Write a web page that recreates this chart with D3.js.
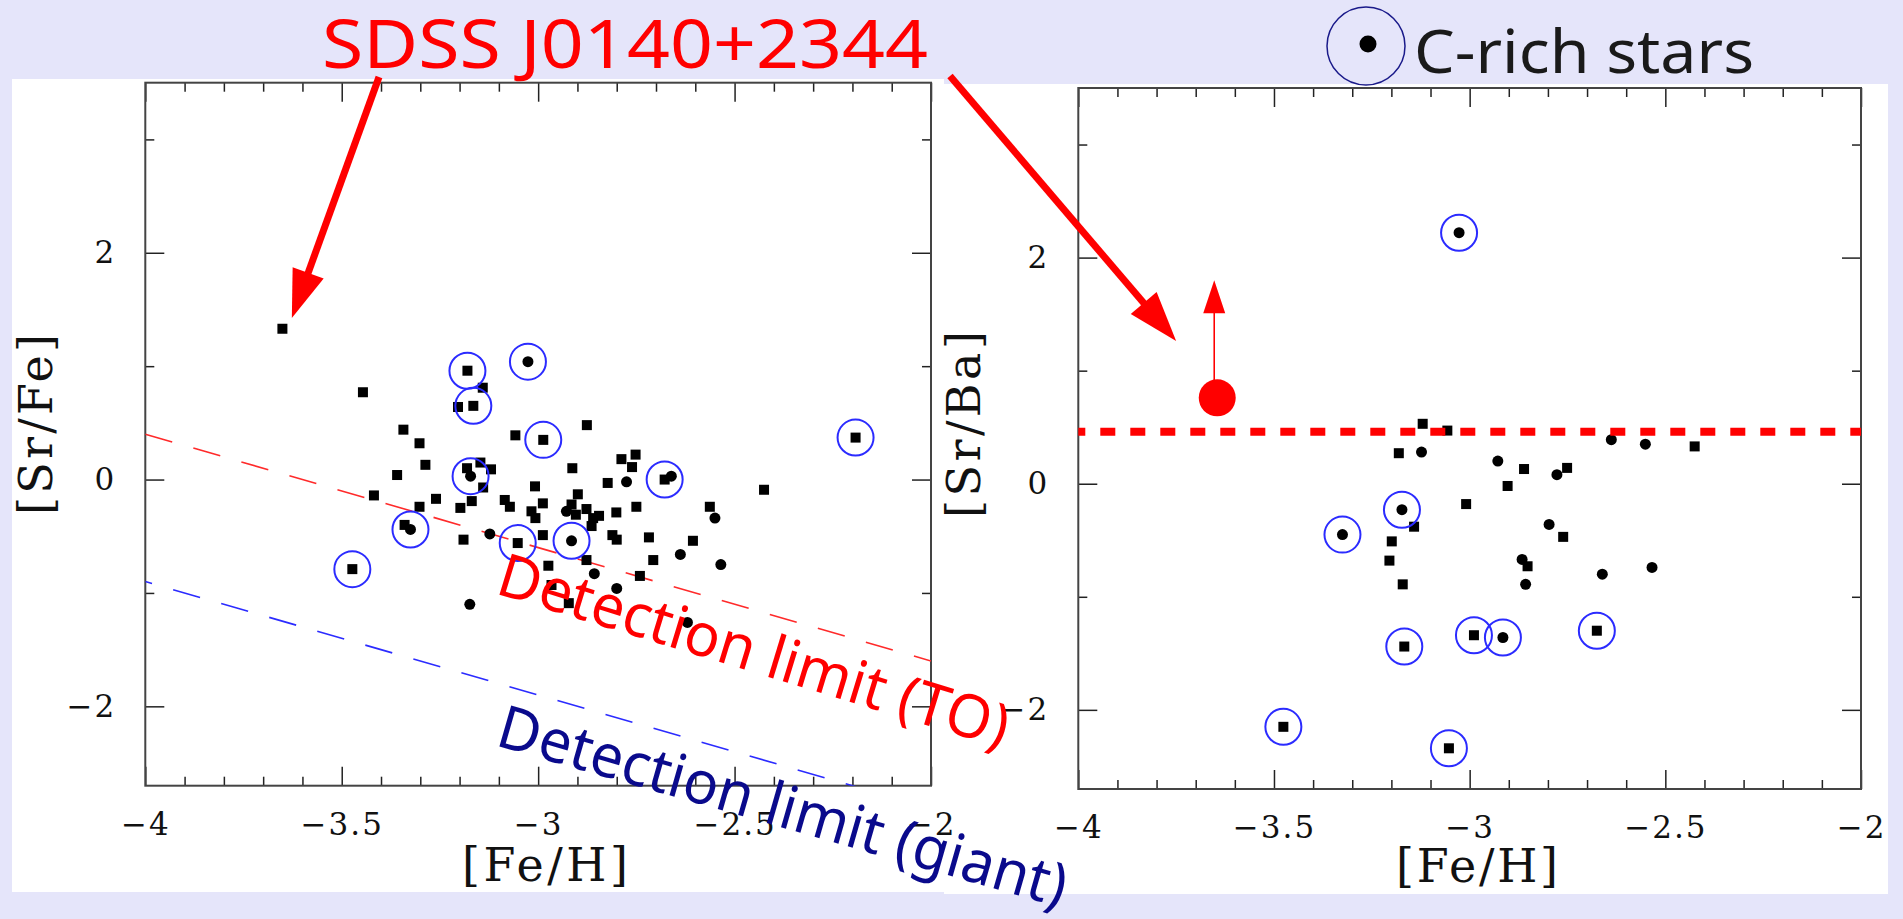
<!DOCTYPE html>
<html>
<head>
<meta charset="utf-8">
<script src="https://cdn.jsdelivr.net/npm/d3@7"></script>
<style>
  body { margin: 0; background: #e5e5fa; }
  svg { display: block; }
</style>
</head>
<body>
<div id="chart"></div>
<script>
// ---- data ----
// left panel: [Fe/H], [Sr/Fe]
var leftSquares = [
  [-3.651, 1.33], [-3.141, 0.81], [-3.446, 0.77], [-3.204, 0.64], [-2.876, 0.48],
  [-3.058, 0.39], [-3.343, 0.44], [-3.302, 0.32], [-3.287, 0.13], [-3.359, 0.04],
  [-3.418, -0.14], [-3.181, 0.10], [-3.147, 0.15], [-3.120, 0.09], [-3.140, -0.07],
  [-3.260, -0.17], [-3.302, -0.24], [-3.340, -0.40], [-3.190, -0.53], [-3.198, -0.25],
  [-3.169, -0.19], [-3.085, -0.18], [-3.072, -0.24], [-3.008, -0.06], [-2.988, -0.21],
  [-2.988, -0.49], [-2.974, -0.76], [-2.966, -0.93], [-2.922, -1.09], [-2.913, 0.10],
  [-2.899, -0.13], [-2.823, -0.03], [-2.788, 0.18], [-2.752, 0.22], [-2.761, 0.11],
  [-2.425, -0.09], [-3.017, -0.28], [-3.007, -0.34], [-2.915, -0.22], [-2.877, -0.26],
  [-2.904, -0.31], [-2.860, -0.34], [-2.845, -0.32], [-2.864, -0.41], [-2.801, -0.29],
  [-2.750, -0.24], [-2.563, -0.24], [-2.811, -0.49], [-2.800, -0.53], [-2.718, -0.51],
  [-2.606, -0.54], [-2.877, -0.71], [-2.707, -0.71], [-2.741, -0.85]
];
var leftDots = [
  [-2.775, -0.02], [-2.661, 0.03], [-2.928, -0.28], [-2.550, -0.34], [-3.123, -0.48],
  [-2.638, -0.66], [-2.535, -0.75], [-2.857, -0.83], [-2.800, -0.96], [-3.174, -1.10],
  [-2.620, -1.26]
];
var leftCRichSquares = [
  [-3.180, 0.96], [-3.165, 0.65], [-2.987, 0.35], [-2.192, 0.37], [-3.473, -0.79],
  [-3.052, -0.56], [-2.678, 0.00]
];
var leftCRichDots = [[-3.026, 1.04], [-3.172, 0.03], [-3.325, -0.44], [-2.915, -0.54]];

// right panel: [Fe/H], [Sr/Ba]
var rightSquares = [
  [-3.120, 0.53], [-3.057, 0.47], [-3.181, 0.27], [-2.903, -0.02], [-3.009, -0.18],
  [-3.142, -0.38], [-3.199, -0.51], [-3.205, -0.68], [-2.861, 0.13], [-2.751, 0.14],
  [-2.425, 0.33], [-3.171, -0.89], [-2.761, -0.47], [-2.852, -0.73]
];
var rightDots = [
  [-3.123, 0.28], [-2.928, 0.20], [-2.777, 0.08], [-2.638, 0.39], [-2.551, 0.35],
  [-2.797, -0.36], [-2.866, -0.67], [-2.857, -0.89], [-2.661, -0.80], [-2.534, -0.74]
];
var rightCRichSquares = [[-3.167, -1.44], [-2.989, -1.34], [-2.675, -1.30], [-3.476, -2.15], [-3.053, -2.34]];
var rightCRichDots = [[-3.027, 2.22], [-3.173, -0.23], [-3.325, -0.45], [-2.915, -1.36]];

// SDSS J0140+2344 in the [Sr/Ba] panel (lower limit)
var j0140SrBa = [[-3.645, 0.76]];
var j0140SrBaArrowTo = 1.8;

// detection limits ([Fe/H], [Sr/Fe]) and the [Sr/Ba] cut
var detLimitTO = [[-4, 0.4], [-2, -1.6]];
var detLimitGiant = [[-4, -0.9], [-2, -2.9]];
var srBaCut = 0.46;

// axes
var xDomain = [-4, -2];
var yDomain = [-2.7, 3.5];
var xMajor = [-4, -3.5, -3, -2.5, -2];
var yLabelled = [-2, 0, 2];
var yUnlabelled = [-1, 1, 3];

// ---- drawing ----
var W = 1903, H = 919;
var svg = d3.select("#chart").append("svg").attr("width", W).attr("height", H);

svg.append("rect").attr("width", W).attr("height", H).attr("fill", "#e5e5fa");
svg.append("rect").attr("x", 12).attr("y", 79).attr("width", 932).attr("height", 813).attr("fill", "#fff");
svg.append("rect").attr("x", 944).attr("y", 84).attr("width", 944).attr("height", 810).attr("fill", "#fff");

function minus(d) {
  return (d < 0 ? "\u2212" : "") + Math.abs(d);
}

function makePanel(box, id) {
  var x = d3.scaleLinear().domain(xDomain).range([box.left, box.right]);
  var y = d3.scaleLinear().domain(yDomain).range([box.bottom, box.top]);
  var g = svg.append("g");
  var xMinor = d3.range(-40, -19).map(function (d) { return d / 10; })
    .filter(function (d) { return xMajor.indexOf(d) < 0; });

  function styleAxis(sel) {
    sel.select(".domain").remove();
    sel.selectAll("line").attr("stroke", "#222").attr("stroke-width", 1.5);
    sel.selectAll("text")
      .attr("font-family", "DejaVu Serif")
      .attr("font-size", 31)
      .attr("letter-spacing", 2)
      .attr("fill", "#111");
  }

  // bottom
  g.append("g").attr("transform", "translate(0," + box.bottom + ")")
    .call(d3.axisBottom(x).tickValues(xMajor).tickSize(-19).tickPadding(27).tickFormat(minus))
    .call(styleAxis);
  g.append("g").attr("transform", "translate(0," + box.bottom + ")")
    .call(d3.axisBottom(x).tickValues(xMinor).tickSize(-9).tickFormat(""))
    .call(styleAxis);
  // top
  g.append("g").attr("transform", "translate(0," + box.top + ")")
    .call(d3.axisTop(x).tickValues(xMajor).tickSize(-19).tickFormat(""))
    .call(styleAxis);
  g.append("g").attr("transform", "translate(0," + box.top + ")")
    .call(d3.axisTop(x).tickValues(xMinor).tickSize(-9).tickFormat(""))
    .call(styleAxis);
  // left
  g.append("g").attr("transform", "translate(" + box.left + ",0)")
    .call(d3.axisLeft(y).tickValues(yLabelled).tickSize(-19).tickPadding(29).tickFormat(minus))
    .call(styleAxis);
  g.append("g").attr("transform", "translate(" + box.left + ",0)")
    .call(d3.axisLeft(y).tickValues(yUnlabelled).tickSize(-9).tickFormat(""))
    .call(styleAxis);
  // right
  g.append("g").attr("transform", "translate(" + box.right + ",0)")
    .call(d3.axisRight(y).tickValues(yLabelled).tickSize(-19).tickFormat(""))
    .call(styleAxis);
  g.append("g").attr("transform", "translate(" + box.right + ",0)")
    .call(d3.axisRight(y).tickValues(yUnlabelled).tickSize(-9).tickFormat(""))
    .call(styleAxis);

  // frame
  g.append("rect")
    .attr("x", box.left).attr("y", box.top)
    .attr("width", box.right - box.left).attr("height", box.bottom - box.top)
    .attr("fill", "none").attr("stroke", "#444").attr("stroke-width", 2);

  svg.append("clipPath").attr("id", id)
    .append("rect")
    .attr("x", box.left).attr("y", box.top)
    .attr("width", box.right - box.left).attr("height", box.bottom - box.top);

  return { x: x, y: y, g: g, clip: "url(#" + id + ")" };
}

function drawPoints(p, squares, dots, crSquares, crDots) {
  var allSq = squares.concat(crSquares);
  var allDot = dots.concat(crDots);
  p.g.selectAll(null).data(allSq).enter().append("rect")
    .attr("x", function (d) { return p.x(d[0]) - 5; })
    .attr("y", function (d) { return p.y(d[1]) - 5; })
    .attr("width", 10).attr("height", 10)
    .attr("fill", "#000");
  p.g.selectAll(null).data(allDot).enter().append("circle")
    .attr("cx", function (d) { return p.x(d[0]); })
    .attr("cy", function (d) { return p.y(d[1]); })
    .attr("r", 5.5)
    .attr("fill", "#000");
  p.g.selectAll(null).data(crSquares.concat(crDots)).enter().append("circle")
    .attr("cx", function (d) { return p.x(d[0]); })
    .attr("cy", function (d) { return p.y(d[1]); })
    .attr("r", 18)
    .attr("fill", "none")
    .attr("stroke", "#2b2bff")
    .attr("stroke-width", 2);
}

var left = makePanel({ left: 145.3, right: 931, top: 82.7, bottom: 785.7 }, "clipL");
var right = makePanel({ left: 1078.3, right: 1861, top: 88, bottom: 789 }, "clipR");

// detection-limit lines (left panel)
var limLine = d3.line()
  .x(function (d) { return left.x(d[0]); })
  .y(function (d) { return left.y(d[1]); });
left.g.append("path").datum(detLimitTO)
  .attr("d", limLine).attr("clip-path", left.clip)
  .attr("fill", "none").attr("stroke", "#ff2a2a").attr("stroke-width", 1.6)
  .attr("stroke-dasharray", "28,22");
left.g.append("path").datum(detLimitGiant)
  .attr("d", limLine).attr("clip-path", left.clip)
  .attr("fill", "none").attr("stroke", "#2b2bff").attr("stroke-width", 1.6)
  .attr("stroke-dasharray", "28,22").attr("stroke-dashoffset", 21);

drawPoints(left, leftSquares, leftDots, leftCRichSquares, leftCRichDots);
drawPoints(right, rightSquares, rightDots, rightCRichSquares, rightCRichDots);

// [Sr/Ba] cut
right.g.append("line")
  .attr("x1", right.x(xDomain[0])).attr("x2", right.x(xDomain[1]))
  .attr("y1", right.y(srBaCut)).attr("y2", right.y(srBaCut))
  .attr("stroke", "#ff0000").attr("stroke-width", 8)
  .attr("stroke-dasharray", "15,15").attr("stroke-dashoffset", 8);

// J0140 lower limit
j0140SrBa.forEach(function (d) {
  var cx = right.x(d[0]), cy = right.y(d[1]), ty = right.y(j0140SrBaArrowTo);
  right.g.append("line")
    .attr("x1", cx - 3).attr("x2", cx - 3).attr("y1", cy).attr("y2", ty + 30)
    .attr("stroke", "#ff0000").attr("stroke-width", 1.6);
  right.g.append("path")
    .attr("d", "M" + (cx - 3) + "," + ty + "L" + (cx - 14) + "," + (ty + 33) + "L" + (cx + 8) + "," + (ty + 33) + "Z")
    .attr("fill", "#ff0000");
  right.g.append("circle").attr("cx", cx).attr("cy", cy).attr("r", 18.5).attr("fill", "#ff0000");
});

// axis titles
function title(txt, x, y, len, rot) {
  svg.append("text")
    .attr("transform", "translate(" + x + "," + y + ")" + (rot ? " rotate(" + rot + ")" : ""))
    .attr("text-anchor", "middle")
    .attr("font-family", "DejaVu Serif")
    .attr("font-size", 46)
    .attr("fill", "#111")
    .attr("textLength", len)
    .attr("lengthAdjust", "spacing")
    .text(txt);
}
title("[Fe/H]", 545, 881, 166, 0);
title("[Fe/H]", 1477, 882, 162, 0);
title("[Sr/Fe]", 52, 424.5, 181, -90);
title("[Sr/Ba]", 980, 424.5, 187, -90);

// detection-limit labels
function slanted(txt, x, y, ang, len, color) {
  svg.append("text")
    .attr("transform", "translate(" + x + "," + y + ") rotate(" + ang + ")")
    .attr("font-family", "Noto Sans")
    .attr("font-size", 60)
    .attr("fill", color)
    .attr("textLength", len)
    .attr("lengthAdjust", "spacingAndGlyphs")
    .text(txt);
}
slanted("Detection limit (TO)", 494, 593, 17, 531, "#ff0000");
slanted("Detection limit (giant)", 494, 745, 16, 589, "#0a0a8c");

// header texts
svg.append("text")
  .attr("x", 322).attr("y", 68)
  .attr("font-family", "Noto Sans").attr("font-size", 68)
  .attr("fill", "#ff0000")
  .attr("textLength", 606).attr("lengthAdjust", "spacingAndGlyphs")
  .text("SDSS J0140+2344");

svg.append("circle").attr("cx", 1366).attr("cy", 46).attr("r", 39)
  .attr("fill", "none").attr("stroke", "#1a1a8a").attr("stroke-width", 1.5);
svg.append("circle").attr("cx", 1368).attr("cy", 44).attr("r", 8.5).attr("fill", "#000");
svg.append("text")
  .attr("x", 1414).attr("y", 73)
  .attr("font-family", "Noto Sans").attr("font-size", 60)
  .attr("fill", "#1a1a1a")
  .attr("textLength", 340).attr("lengthAdjust", "spacingAndGlyphs")
  .text("C-rich stars");

// pointer arrows from the name to the star in both panels
var pointers = [
  { from: [379, 77], panel: left, tip: [-3.627, 1.425], head: 48, half: 16.5 },
  { from: [950, 76], panel: right, tip: [-3.750, 1.262], head: 50, half: 17 }
];
pointers.forEach(function (a) {
  var tx = a.panel.x(a.tip[0]), ty = a.panel.y(a.tip[1]);
  var dx = tx - a.from[0], dy = ty - a.from[1];
  var len = Math.sqrt(dx * dx + dy * dy);
  var ux = dx / len, uy = dy / len;
  var bx = tx - ux * a.head, by = ty - uy * a.head;
  svg.append("line")
    .attr("x1", a.from[0]).attr("y1", a.from[1])
    .attr("x2", bx + ux * 4).attr("y2", by + uy * 4)
    .attr("stroke", "#ff0000").attr("stroke-width", 7);
  svg.append("path")
    .attr("d", "M" + tx + "," + ty +
      "L" + (bx - uy * a.half) + "," + (by + ux * a.half) +
      "L" + (bx + uy * a.half) + "," + (by - ux * a.half) + "Z")
    .attr("fill", "#ff0000");
});
</script>
</body>
</html>
